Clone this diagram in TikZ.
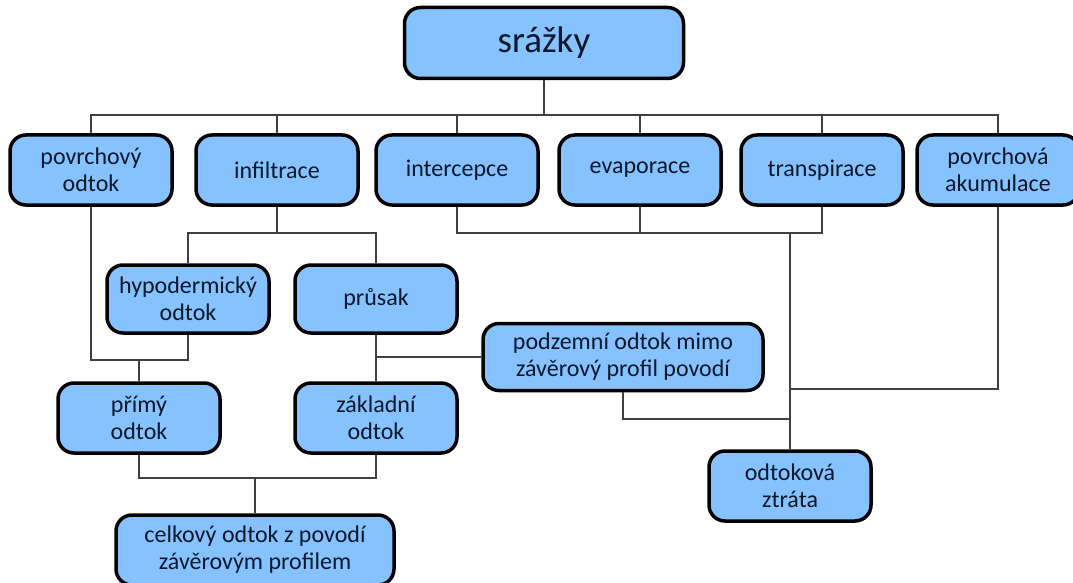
\documentclass[tikz,border=0pt]{standalone}
\usepackage{fontspec}
\setmainfont{Carlito}
\usepackage{xcolor}
\definecolor{boxblue}{HTML}{85C2FF}
\definecolor{inkblue}{HTML}{06182A}
\usepackage{tikz}

\begin{document}
\begin{tikzpicture}[x=1pt, y=-1pt,
  box/.style={draw=black, line width=3.5pt, fill=boxblue, rounded corners=16pt,
    minimum width=162pt, minimum height=70pt, align=center, text=inkblue,
    inner sep=2pt, font=\fontsize{24}{27}\selectfont},
  link/.style={line width=1.3pt, draw=black!75}]
  \useasboundingbox (0,0) rectangle (1073,583);

  % Top: precipitation
  \node[box, minimum width=279pt, minimum height=71pt, font=\fontsize{37}{40}\selectfont] (srazky) at (544,43) {srážky};

  % First level
  \node[box] (povodtok) at (91,170) {povrchový\\odtok};
  \node[box] (infiltrace) at (277,170) {infiltrace};
  \node[box] (intercepce) at (457,170) {intercepce};
  \node[box] (evaporace) at (640,170) {evaporace};
  \node[box] (transpirace) at (822,170) {transpirace};
  \node[box] (akum) at (998,170) {povrchová\\akumulace};

  % Second level
  \node[box, minimum height=68pt] (hypo) at (188,299) {hypodermický\\odtok};
  \node[box, minimum height=68pt] (prusak) at (376,299) {průsak};
  \node[box, minimum width=280pt, minimum height=67pt] (podzemni) at (623,357) {podzemní odtok mimo\\závěrový profil povodí};

  % Runoff components
  \node[box] (primy) at (139,418) {přímý\\odtok};
  \node[box] (zakladni) at (376,418) {základní\\odtok};
  \node[box] (ztrata) at (790,486) {odtoková\\ztráta};
  \node[box, minimum width=278pt] (celkovy) at (255,550) {celkový odtok z povodí\\závěrovým profilem};

  % Bus levels
  \coordinate (topbus) at (0,115);
  \coordinate (splitbus) at (0,233);
  \coordinate (directbus) at (0,360);
  \coordinate (akumbend) at (0,389);
  \coordinate (lossbend) at (0,419);
  \coordinate (totalbus) at (0,478);

  % From precipitation to first level
  \draw[link] (srazky.south) -- (srazky.south |- topbus);
  \draw[link] (povodtok.north) -- (povodtok.north |- topbus) -- (akum.north |- topbus) -- (akum.north);
  \foreach \n in {infiltrace, intercepce, evaporace, transpirace}
    \draw[link] (\n.north) -- (\n.north |- topbus);

  % Infiltration split
  \draw[link] (infiltrace.south) -- (infiltrace.south |- splitbus);
  \draw[link] (hypo.north) -- (hypo.north |- splitbus) -- (prusak.north |- splitbus) -- (prusak.north);

  % Losses
  \draw[link] (intercepce.south) -- (intercepce.south |- splitbus) -- (transpirace.south |- splitbus) -- (transpirace.south);
  \draw[link] (evaporace.south) -- (evaporace.south |- splitbus);
  \draw[link] (ztrata.north |- splitbus) -- (ztrata.north);
  \draw[link] (akum.south) -- (akum.south |- akumbend) -- (ztrata.north |- akumbend);
  \draw[link] (podzemni.south) -- (podzemni.south |- lossbend) -- (ztrata.north |- lossbend);

  % Direct runoff
  \draw[link] (povodtok.south) -- (povodtok.south |- directbus) -- (hypo.south |- directbus) -- (hypo.south);
  \draw[link] (primy.north |- directbus) -- (primy.north);

  % Percolation
  \draw[link] (prusak.south) -- (zakladni.north);
  \draw[link] (prusak.south |- podzemni.west) -- (podzemni.west);

  % Total runoff
  \draw[link] (primy.south) -- (primy.south |- totalbus) -- (zakladni.south |- totalbus) -- (zakladni.south);
  \draw[link] (celkovy.north |- totalbus) -- (celkovy.north);
\end{tikzpicture}
\end{document}
